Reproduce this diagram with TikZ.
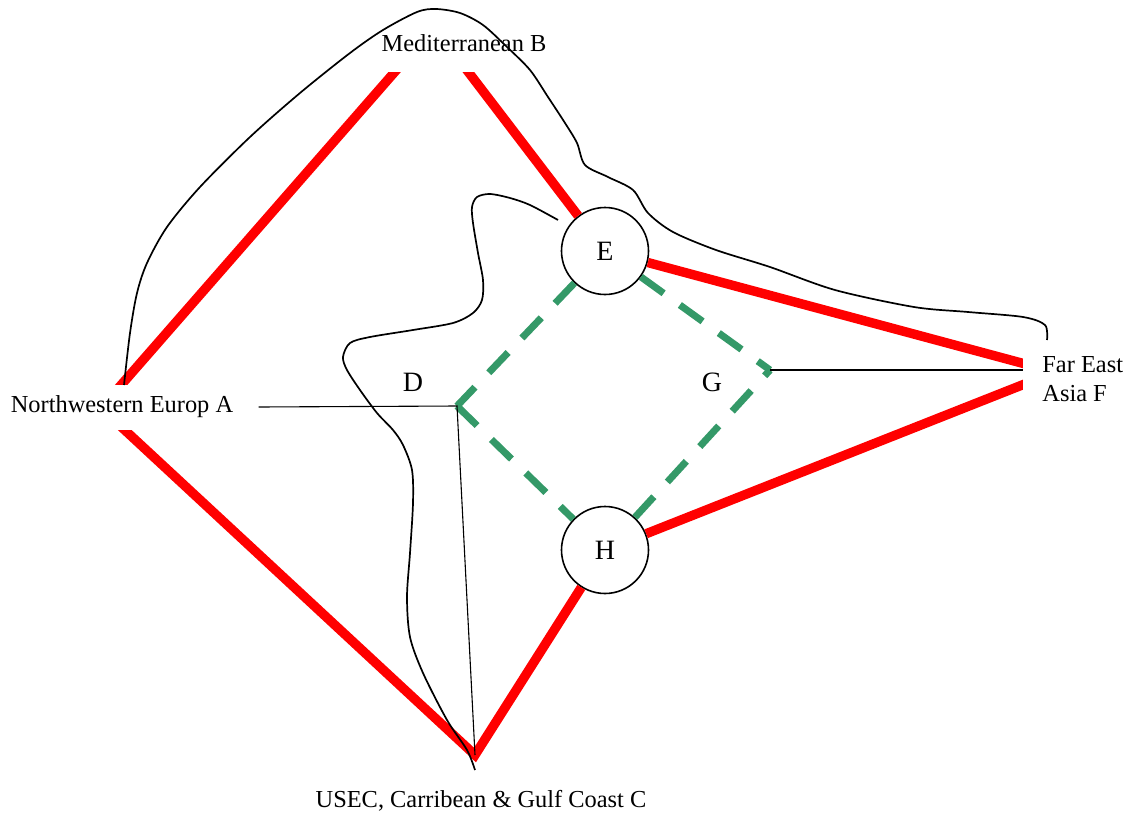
\documentclass[tikz,border=0pt]{standalone}
\usepackage{fontspec}
\setmainfont{Liberation Serif}
\usetikzlibrary{positioning}
\definecolor{feedgreen}{RGB}{52,153,104}

\begin{document}
\begin{tikzpicture}
[x=0.5pt, y=-0.5pt,
  every node/.style={font=\fontsize{12.2}{14.5}\selectfont},
  port/.style={fill=white, inner ysep=0pt, align=center},
  hub/.style={draw, circle, line width=0.8pt, minimum size=43.5pt, inner sep=0pt, fill=white,
    font=\fontsize{14}{16}\selectfont},
  letter/.style={font=\fontsize{14}{16}\selectfont},
  mainline/.style={draw=red, line width=4.7pt},
  feeder/.style={draw=feedgreen, line width=3.5pt, dash pattern=on 14pt off 10pt},
  region/.style={draw, line width=0.85pt},
  link/.style={draw, line width=0.55pt}]

\useasboundingbox (0,0) rectangle (1129,819);

\coordinate (a) at (101,408);
\coordinate (b) at (434,27);
\coordinate (c) at (475,755);
\coordinate (f) at (1055,372);
\coordinate (d) at (457,406);
\coordinate (g) at (770,370);

\node[hub] (E) at (605,251) {E};
\node[hub] (H) at (605,550) {H};

\draw[mainline] (a) -- (b) -- (E);
\draw[mainline] (a) -- (c) -- (H);
\draw[mainline] (E) -- (f) -- (H);

\draw[feeder] (E) -- (d);
\draw[feeder] (d) -- (H);
\draw[feeder] (H) -- (g);
\draw[feeder] (E) -- (g);

\node[port, minimum height=29pt] (med) at (464,43) {Mediterranean B};
\node[port, minimum height=22.5pt, inner xsep=12.5pt] (nweurope) at (122,407) {Northwestern Europ A};
\node[port, minimum height=30pt, inner xsep=9.5pt, anchor=west, align=left] (fareast) at (1023,379)
  {Far East\\Asia F};
\node (usec) at (481,801) {USEC, Carribean \& Gulf Coast C};
\node[letter] (dlabel) at (413,382) {D};
\node[letter] (glabel) at (712,382) {G};

\draw[link] (nweurope.east) -- (d) -- (c);
\draw[link] (g) -- (g -| fareast.west);

\draw[region] plot[smooth] coordinates {(124,385) (130,333) (137,293) (147,263) (167,227)
  (200,187) (250,137) (300,93) (350,53) (383,30) (417,12) (436,9) (460,13) (483,25)
  (507,47) (530,70) (548,97) (565,123) (577,143) (585,165) (608,177) (633,190)
  (648,213) (673,232) (716,250) (770,267) (835,290) (914,307) (968,312) (1023,317)
  (1045,325) (1047,340)};

\draw[region] plot[smooth] coordinates {(558,220) (530,205) (510,198) (490,194) (477,197)
  (472,207) (473,223) (478,253) (483,280) (482,300) (473,313) (453,323) (413,330)
  (370,337) (350,343) (343,357) (347,370) (360,390) (377,413) (393,430) (403,445)
  (412,470) (413,503) (410,553) (407,597) (410,637) (423,673) (447,720) (467,750)
  (475,770)};

\end{tikzpicture}
\end{document}
